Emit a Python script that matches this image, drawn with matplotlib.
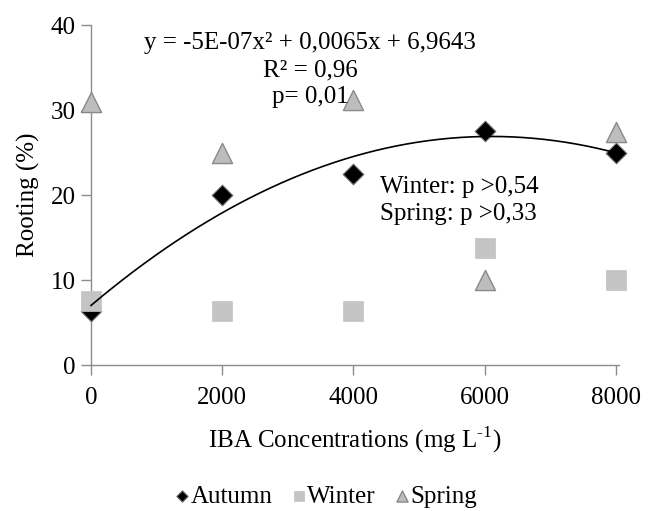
import numpy as np
import matplotlib
matplotlib.use("Agg")
import matplotlib.pyplot as plt

plt.rcParams['font.family'] = ['Liberation Serif', 'DejaVu Serif']
plt.rcParams['mathtext.fontset'] = 'custom'
plt.rcParams['mathtext.rm'] = 'Liberation Serif'

iba = [0, 2000, 4000, 6000, 8000]
autumn = [6.3, 20.0, 22.5, 27.5, 25.0]
winter = [7.5, 6.3, 6.3, 13.8, 10.0]
spring = [31.0, 25.0, 31.2, 10.0, 27.4]

FS = 18

fig = plt.figure(figsize=(6.53, 5.11), dpi=100)
ax = fig.add_axes([0.1394, 0.2857, 0.8086, 0.6653])

ax.scatter(iba, autumn, marker='D', s=110, c='black', edgecolors='#707070',
           linewidths=0.8, zorder=3, clip_on=False, label='Autumn')
ax.scatter(iba, winter, marker='s', s=200, c='#c4c4c4', edgecolors='#c4c4c4',
           linewidths=0.5, zorder=4, clip_on=False, label='Winter')
ax.scatter(iba, spring, marker='^', s=210, c='#bdbdbd', edgecolors='#8a8a8a',
           linewidths=1.0, zorder=4, clip_on=False, label='Spring')

coef = np.polyfit(iba, autumn, 2)
xs = np.linspace(0, 8000, 200)
ax.plot(xs, np.polyval(coef, xs), color='black', lw=1.2, zorder=5, clip_on=False)

ax.set_xlim(0, 8050)
ax.set_ylim(0, 40)
ax.set_xticks(iba)
ax.set_yticks([0, 10, 20, 30, 40])
for s in ['top', 'right']:
    ax.spines[s].set_visible(False)
for s in ['left', 'bottom']:
    ax.spines[s].set_color('#8c8c8c')
    ax.spines[s].set_linewidth(1.0)
ax.tick_params(axis='both', colors='#8c8c8c', labelcolor='black', labelsize=FS,
               direction='out', length=7, width=1.0)
ax.tick_params(axis='x', pad=9)
ax.tick_params(axis='y', pad=4)

ax.set_xlabel('IBA Concentrations (mg L$^{\\mathregular{\u2010}1}$)', fontsize=FS, labelpad=11)
ax.set_ylabel('Rooting (%)', fontsize=FS, labelpad=8)

ax.text(3340, 39.15, 'y = -5E-07x² + 0,0065x + 6,9643\nR² = 0,96\np= 0,01',
        ha='center', va='top', fontsize=FS, linespacing=1.28, zorder=6)
ax.text(4400, 22.25, 'Winter: p >0,54\nSpring: p >0,33',
        ha='left', va='top', fontsize=FS, linespacing=1.28, zorder=6)

h, l = ax.get_legend_handles_labels()
leg = fig.legend(h, l, loc='center', bbox_to_anchor=(0.5, 0.028), ncol=3,
                 frameon=False, fontsize=FS, handlelength=0.5, handletextpad=0.1,
                 columnspacing=0.8, markerscale=0.55)

fig.savefig('out.png', dpi=100)
